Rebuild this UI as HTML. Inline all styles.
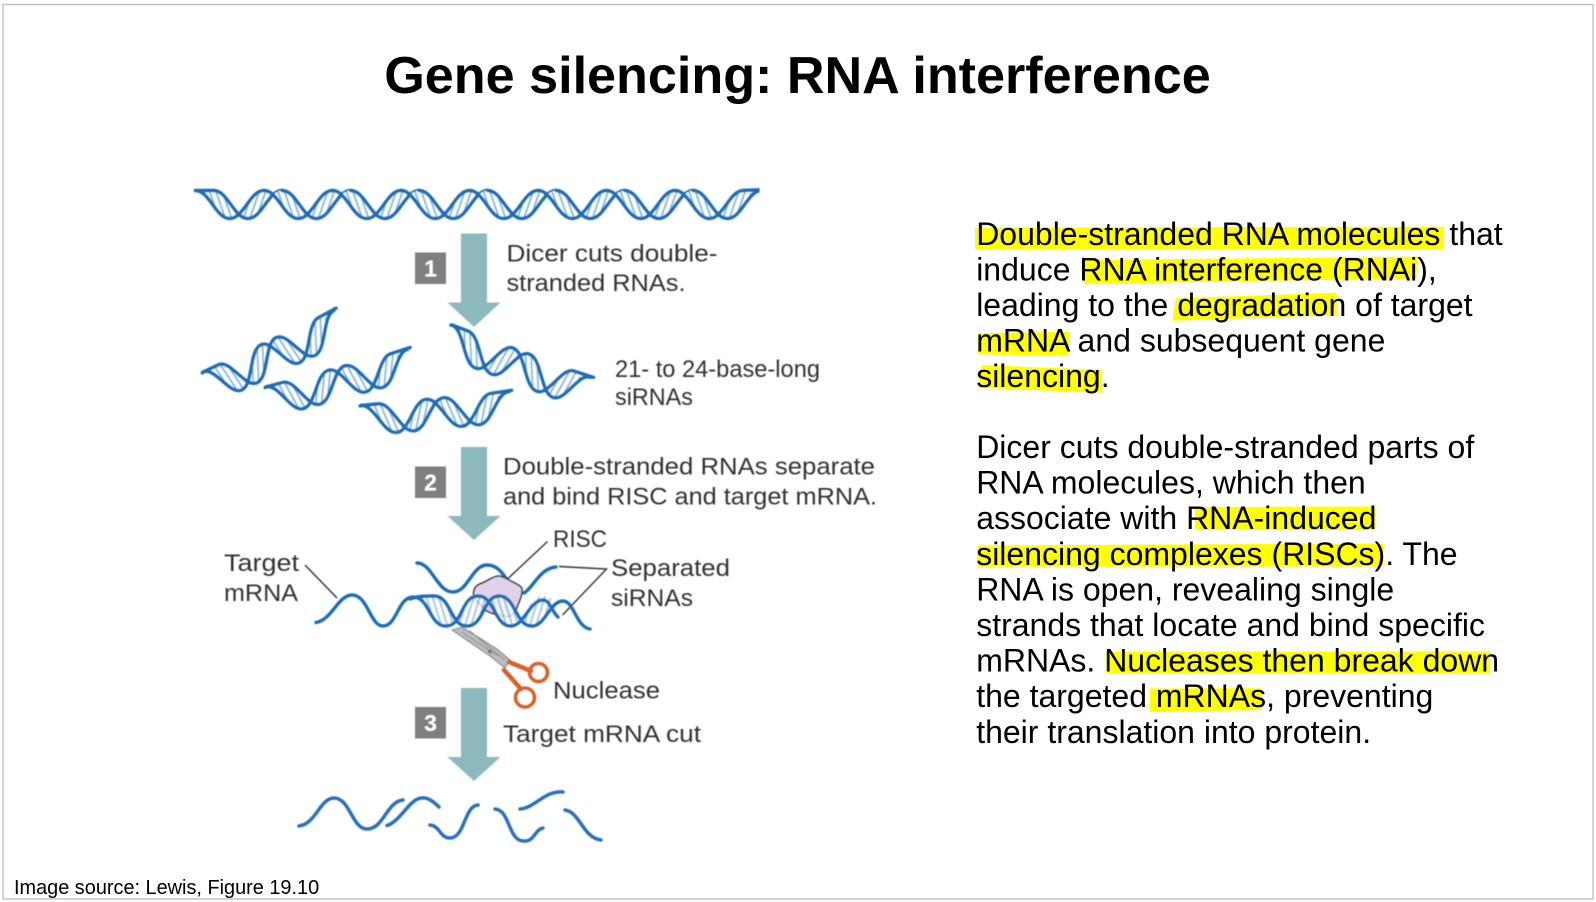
<!DOCTYPE html>
<html><head><meta charset="utf-8"><title>Gene silencing: RNA interference</title>
<style>
html,body{margin:0;padding:0;background:#fff;width:1596px;height:902px;overflow:hidden}
svg{display:block}
text{font-family:"Liberation Sans",sans-serif}
.b{font-size:32px;fill:#000}
.l{font-size:24px;fill:#333}
.n{font-size:23px;font-weight:bold;fill:#fff;text-anchor:middle}
.s{fill:none;stroke:#1f6db5;stroke-width:3.4;stroke-linecap:round;stroke-linejoin:round;vector-effect:non-scaling-stroke}
</style></head><body>
<svg xmlns="http://www.w3.org/2000/svg" width="1596" height="902" viewBox="0 0 1596 902">
<defs>
<pattern id="hatch" patternUnits="userSpaceOnUse" width="6" height="12" patternTransform="rotate(-18)">
<rect width="6" height="12" fill="#fbfdfe"/><rect x="0" width="1.8" height="12" fill="#7fb6dc"/>
</pattern>
<path id="lb" fill="url(#hatch)" d="M9 4.7C12 1.8 15 0 18 0C25 0 30 7.5 35 15C37.7 19 40 22.8 43 25.3C40.5 28.5 37.5 30 34 30C27 30 22 22.5 17 15C14 10.5 11.5 7 9 4.7Z"/>
<g id="lobes"><use href="#lb"/><use href="#lb" transform="translate(34,30) scale(1,-1)"/></g>
<path id="lb2" fill="url(#hatch)" d="M11 4.7C14 1.5 18 0 22 0C32 0 35 8 39 15C41 18 43 22 45 25.3C42 28 38 30 34 30C23 30 21 22 17 15C15 11 13 7 11 4.7Z"/>
<g id="lobes2"><use href="#lb2"/><use href="#lb2" transform="translate(34,30) scale(1,-1)"/></g>
<path id="sa" class="s" d="M0 0C14 0 20 30 34 30C48 30 54 0 68 0"/>
<g id="unit"><use href="#lobes"/><use href="#sa"/><use href="#sa" x="18"/></g>
<g id="fr">
<use href="#lobes"/><use href="#lobes" x="68"/>
<path class="s" d="M0 0C14 0 20 30 34 30C48 30 54 0 68 0C82 0 88 30 102 30C116 30 122 0 136 0L157 -1"/>
<path class="s" d="M-1 0.5L0 0L18 0C32 0 38 30 52 30C66 30 72 0 86 0C100 0 106 30 120 30C134 30 140 0 154 0"/>
</g>
<clipPath id="mc"><rect x="190" y="170" width="569.5" height="70"/></clipPath>
<filter id="soft" x="-5%" y="-5%" width="110%" height="110%"><feGaussianBlur stdDeviation="0.45"/></filter>
</defs>

<rect width="1596" height="902" fill="#fff"/>
<rect x="3" y="4.5" width="1590" height="894.5" fill="none" stroke="#c0c0c0" stroke-width="1.4"/>

<text x="797.5" y="93" text-anchor="middle" font-size="52.13" font-weight="bold" fill="#000">Gene silencing: RNA interference</text>

<g filter="url(#soft)">
<!-- main helix -->
<g clip-path="url(#mc)">
<g transform="translate(195.5,190.5) scale(1.0074,0.933)">
<use href="#unit" x="0"/><use href="#unit" x="68"/><use href="#unit" x="136"/><use href="#unit" x="204"/>
<use href="#unit" x="272"/><use href="#unit" x="340"/><use href="#unit" x="408"/><use href="#unit" x="476"/>
<path class="s" d="M0 0L18 0M544 0L564 -1"/>
</g>
</g>

<!-- arrows -->
<g fill="#8bb9be">
<path d="M461 233.5H487V302.5H500.5L474 327L447.5 302.5H461Z"/>
<path d="M461 447H487V516H500.5L474 540L447.5 516H461Z"/>
<path d="M461 688H487V757H500.5L474 781L447.5 757H461Z"/>
</g>
<g fill="#7f7f7f">
<rect x="415" y="252.5" width="31" height="31.5"/>
<rect x="415" y="466.5" width="31" height="31.5"/>
<rect x="415" y="707" width="31" height="31.5"/>
</g>
<text class="n" x="430.5" y="276.5">1</text>
<text class="n" x="430.5" y="490.5">2</text>
<text class="n" x="430.5" y="731">3</text>

<!-- fragments -->
<use href="#fr" transform="matrix(.85,-.4,.33,1.05,203,372)"/>
<use href="#fr" transform="matrix(.92,-.245,.2,1,266,386.9)"/>
<use href="#fr" transform="matrix(.96,-.09,.1,1,361,405.5)"/>
<use href="#fr" transform="matrix(.9,.34,-.24,1.05,452,325)"/>

<!-- labels -->
<text class="l" x="506.5" y="261.5" textLength="211" lengthAdjust="spacingAndGlyphs">Dicer cuts double-</text>
<text class="l" x="506.5" y="291" textLength="179" lengthAdjust="spacingAndGlyphs">stranded RNAs.</text>
<text class="l" x="615" y="377" textLength="205" lengthAdjust="spacingAndGlyphs">21- to 24-base-long</text>
<text class="l" x="615" y="405" textLength="78" lengthAdjust="spacingAndGlyphs">siRNAs</text>
<text class="l" x="503" y="474.5" textLength="372" lengthAdjust="spacingAndGlyphs">Double-stranded RNAs separate</text>
<text class="l" x="503" y="504.5" textLength="374" lengthAdjust="spacingAndGlyphs">and bind RISC and target mRNA.</text>
<text class="l" x="553" y="547" textLength="54" lengthAdjust="spacingAndGlyphs">RISC</text>
<text class="l" x="611" y="576" textLength="119" lengthAdjust="spacingAndGlyphs">Separated</text>
<text class="l" x="611" y="606" textLength="82" lengthAdjust="spacingAndGlyphs">siRNAs</text>
<text class="l" x="553" y="698.5" textLength="107" lengthAdjust="spacingAndGlyphs">Nuclease</text>
<text class="l" x="503" y="742" textLength="198" lengthAdjust="spacingAndGlyphs">Target mRNA cut</text>
<text class="l" x="224" y="571" textLength="75" lengthAdjust="spacingAndGlyphs">Target</text>
<text class="l" x="224" y="601" textLength="74" lengthAdjust="spacingAndGlyphs">mRNA</text>

<!-- leader lines -->
<g fill="none" stroke="#333" stroke-width="1.4">
<path d="M305 565L337 598"/>
<path d="M547.5 541.5L508 578.5"/>
<path d="M559 566.5L606.5 569L562.5 615"/>
</g>

<!-- upper separated strand -->
<path class="s" d="M417 563C432 563 437 592 453 592C468 592 472 565 487 565C500 565 505 578 510 584"/>
<path class="s" d="M524 593C533 588 540 568 556 567"/>

<!-- RISC -->
<path fill="#dfd2ea" stroke="#333" stroke-width="1.5" d="M473.5 593C474 587 477 585 481 583.5C488 581 493 576 498.5 576C503 576 505 578 509 580C514 583 521 585 522 589C523 595 518 604 515.5 611C513 615 510 617 506 616.5C499 615.5 492 614 487 611C482 607 474 600 473.5 593Z"/>

<!-- target mRNA + paired siRNA -->
<g opacity="0.8"><use href="#lobes2" transform="translate(413,596) scale(.96,1)"/><use href="#lobes2" transform="translate(478,596) scale(.96,1)"/></g>
<path class="s" d="M316 622.5C332 620 338 595 352 595C368 595 370 626 383 626C397 626 398 597 413 597C430 597 429 626 446 626C463 626 461 596 478 596C495 596 494 626 511 626C524 626 530 600 543 600C550 600 552 612 558 617"/>
<path class="s" d="M410 599C418 596 425 596 434 596C451 596 450 626 467 626C484 626 483 596 499 596C516 596 515 626 532 626C545 626 550 601 563 601C574 601 576 627 590 629"/>

<!-- scissors -->
<path fill="#bdbdbd" stroke="#777" stroke-width="0.9" d="M452 630L462 627L497 649L510 660L505 668L490 656Z"/>
<path fill="none" stroke="#8a8a8a" stroke-width="1" d="M462 632L498 656M470 631L505 660"/>
<circle cx="490" cy="651.5" r="1.8" fill="#666"/>
<g fill="none" stroke="#d9622b" stroke-linecap="round">
<path stroke-width="4.6" d="M509 662L531 671"/>
<path stroke-width="4.6" d="M504 670L521 689"/>
<circle cx="538.5" cy="672.5" r="9" stroke-width="3.6"/>
<circle cx="525" cy="697.5" r="9.5" stroke-width="3.6"/>
</g>

<!-- cut fragments -->
<g fill="none" stroke="#2a70ba" stroke-width="3.5" stroke-linecap="round">
<path d="M299 826C316 824 320 798 334 798C350 798 352 829 367 829C384 829 386 802 403 800"/>
<path d="M387 825.5C400 822 410 798 422 798C428 797 435 803 439 807"/>
<path d="M430 825C440 826 440 838 450 838C465 838 464 806 478 805"/>
<path d="M495 809C510 810 508 840 523 841C535 842 534 830 543 828"/>
<path d="M520 809C535 808 545 790 563 792"/>
<path d="M565 810C580 812 583 838 601 840"/>
</g>
</g>

<!-- highlights -->
<g fill="#ffff00">
<polygon points="975,227.7 1444,226.7 1444,249 975,249"/>
<polygon points="1081.7,260 1417,256.7 1416.5,278.3 1084,284"/>
<polygon points="1175.7,298.3 1336.7,292.7 1336.7,315 1172.5,320.7"/>
<polygon points="978,333.3 1069.3,331.7 1068.3,356 978,354.3"/>
<polygon points="981.7,365 1101.7,370 1102.3,392.7 978.3,387.7"/>
<polygon points="1195,507 1375.7,506.5 1375.7,530 1195,530"/>
<polygon points="977.3,545.5 1383.3,543.5 1383.3,566.5 977.3,566.7"/>
<polygon points="1105.7,651.7 1490,651.5 1490,673.3 1105.7,673.3"/>
<polygon points="1150,688.5 1261.7,688.3 1261.7,710 1150,711.7"/>
</g>

<!-- body -->
<text class="b" x="976.2" y="245">Double-stranded RNA molecules that</text>
<text class="b" x="976.2" y="280.5">induce RNA interference (RNAi),</text>
<text class="b" x="976.2" y="316">leading to the degradation of target</text>
<text class="b" x="976.2" y="351.5">mRNA and subsequent gene</text>
<text class="b" x="976.2" y="387">silencing.</text>
<text class="b" x="976.2" y="458">Dicer cuts double-stranded parts of</text>
<text class="b" x="976.2" y="493.6">RNA molecules, which then</text>
<text class="b" x="976.2" y="529.2">associate with RNA-induced</text>
<text class="b" x="976.2" y="564.8">silencing complexes (RISCs). The</text>
<text class="b" x="976.2" y="600.4">RNA is open, revealing single</text>
<text class="b" x="976.2" y="636">strands that locate and bind specific</text>
<text class="b" x="976.2" y="671.6">mRNAs. Nucleases then break down</text>
<text class="b" x="976.2" y="707.2">the targeted mRNAs, preventing</text>
<text class="b" x="976.2" y="742.8">their translation into protein.</text>

<text x="14" y="894" font-size="19.9" fill="#000">Image source: Lewis, Figure 19.10</text>
</svg>
</body></html>
